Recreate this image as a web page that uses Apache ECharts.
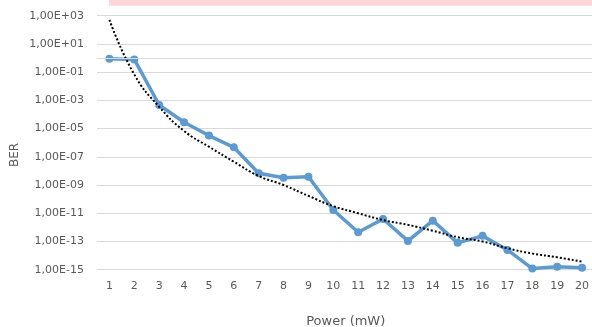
<!DOCTYPE html>
<html>
<head>
<meta charset="utf-8">
<script src="https://cdn.jsdelivr.net/npm/echarts@6/dist/echarts.min.js"></script>
<style>
  html, body { margin: 0; padding: 0; background: #fff; }
  #chart { width: 592px; height: 327px; }
</style>
</head>
<body>
<div id="chart"></div>
<script>
var powers = ['1', '2', '3', '4', '5', '6', '7', '8', '9', '10', '11', '12', '13', '14', '15', '16', '17', '18', '19', '20'];
// BER
var ber = [9e-1, 8e-1, 4.7e-4, 2.8e-5, 3.2e-6, 4.7e-7, 6.8e-9, 3.3e-9, 3.9e-9, 1.7e-11,
  4.5e-13, 3.9e-12, 1.1e-13, 3e-12, 8e-14, 2.5e-13, 2.5e-14, 1.2e-15, 1.6e-15, 1.4e-15];
// dotted trend line, read at each category
var trend = [5e2, 6.8e-2, 3.5e-4, 6.8e-6, 5.2e-7, 4.5e-8, 4.4e-9, 1e-9, 1.7e-10, 3.2e-11,
  1e-11, 3.3e-12, 1.5e-12, 5.8e-13, 2e-13, 1e-13, 3.3e-14, 1.4e-14, 7.6e-15, 3.7e-15];
var yMin = 1e-15;
var yMax = 1e3;

var font = 'DejaVu Sans';
var textColor = '#595959';

function sciLabel(v) {
  var e = Math.round(Math.log10(v));
  var s = Math.abs(e) < 10 ? '0' + Math.abs(e) : '' + Math.abs(e);
  return '1,00E' + (e < 0 ? '-' : '+') + s;
}

var chart = echarts.init(document.getElementById('chart'), null, { renderer: 'canvas' });
var option = {
  animation: false,
  grid: {
    left: 97,
    right: -2.5,
    top: 15.7,
    bottom: 57.3,
    containLabel: false,
    outerBoundsMode: 'none'
  },
  graphic: [{
    type: 'rect',
    shape: { x: 109, y: 0, width: 483, height: 5.7 },
    style: { fill: '#FFD6D9' },
    silent: true
  }, {
    type: 'text',
    x: 15,
    y: 155,
    rotation: Math.PI / 2,
    style: {
      text: 'BER',
      fill: textColor,
      font: '12px "DejaVu Sans"',
      align: 'center',
      verticalAlign: 'middle'
    }
  }],
  xAxis: {
    type: 'category',
    data: powers,
    name: 'Power (mW)',
    nameLocation: 'middle',
    nameGap: 45,
    nameTextStyle: {
      color: textColor,
      fontFamily: font,
      fontSize: 13
    },
    axisLine: { show: false },
    axisTick: { show: false },
    axisLabel: {
      color: textColor,
      fontFamily: font,
      fontSize: 11,
      margin: 11
    }
  },
  yAxis: {
    type: 'log',
    logBase: 10,
    min: yMin,
    max: yMax,
    interval: 2,
    axisLine: { show: false },
    axisTick: { show: false },
    splitLine: { lineStyle: { color: '#D9D9D9', width: 1 } },
    axisLabel: {
      color: textColor,
      fontFamily: font,
      fontSize: 11,
      margin: 13,
      formatter: sciLabel
    }
  },
  series: [{
    type: 'line',
    data: ber,
    symbol: 'circle',
    symbolSize: 8,
    lineStyle: { color: '#5B9BD5', width: 3.5 },
    itemStyle: { color: '#5B9BD5' },
    markLine: {
      silent: true,
      symbol: 'none',
      label: { show: false },
      lineStyle: { color: '#D9D9D9', width: 1, type: 'solid' },
      data: [{ yAxis: 1 }]
    },
    z: 2
  }, {
    type: 'line',
    data: trend,
    smooth: true,
    symbol: 'none',
    lineStyle: { color: '#000', width: 2, type: [2, 2] },
    z: 3
  }]
};
chart.setOption(option);
</script>
</body>
</html>
